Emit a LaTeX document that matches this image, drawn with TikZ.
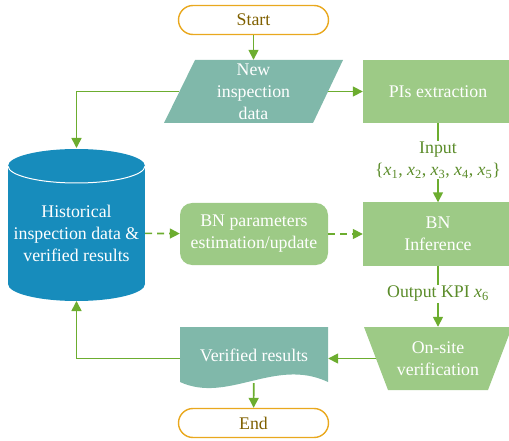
\documentclass[tikz,border=0pt]{standalone}
\usepackage{fontspec}
\setmainfont{Liberation Serif}
\usetikzlibrary{arrows.meta}

\definecolor{termline}{HTML}{E9A81E}
\definecolor{termtext}{HTML}{7F6000}
\definecolor{tealfill}{HTML}{80B8AA}
\definecolor{greenfill}{HTML}{9DCA86}
\definecolor{dbblue}{HTML}{178CBC}
\definecolor{flowgreen}{HTML}{6CAD2F}
\definecolor{labelgreen}{HTML}{5B8C2A}

\newcommand{\xvar}[1]{\textit{x}\textsubscript{#1}}

\begin{document}
\begin{tikzpicture}
	[x=1pt, y=-1pt,
	 every node/.style={inner sep=2pt,align=center,font=\fontsize{17.8}{22}\selectfont},
	 term/.style={draw=termline,text=termtext,line width=1.4pt,rounded corners=14.5pt,minimum width=150pt,minimum height=29pt},
	 procbox/.style={fill=greenfill,text=white,minimum width=150pt,minimum height=63pt},
	 roundbox/.style={fill=greenfill,text=white,rounded corners=12pt,minimum width=148pt,minimum height=62pt},
	 shapetext/.style={text=white,minimum width=148pt,minimum height=63pt},
	 note/.style={text=labelgreen,inner sep=1pt},
	 flow/.style={draw=flowgreen,line width=1.6pt,-{Triangle[length=10pt,width=10pt]}},
	 plain/.style={draw=flowgreen,line width=1.6pt},
	 scale=1 ]

\useasboundingbox (0,0) rectangle (509,441);

\node [term] (start) at (253.5,20) {Start};

\fill[tealfill] (195,60) -- (343,60) -- (313,123) -- (164,123) -- cycle;
\node [shapetext] (newdata) at (253.5,91.5) {New\\inspection\\data};
\node [procbox] (pis) at (438,91.5) {PIs extraction};
\node [note] (input) at (438,160) {Input\\\{\xvar{1}, \xvar{2}, \xvar{3}, \xvar{4}, \xvar{5}\}};

\fill[dbblue] (8,166) rectangle (145,284);
\fill[dbblue] (76.5,166) ellipse [x radius=68.5, y radius=17];
\fill[dbblue] (76.5,284) ellipse [x radius=68.5, y radius=17];
\draw[white,line width=1pt] (8,166) arc [start angle=180, end angle=0, x radius=68.5, y radius=17];
\node [shapetext,minimum width=137pt] (hist) at (76.5,233) {Historical\\inspection data \&\\verified results};
\coordinate (histtop) at (76.5,148);
\coordinate (histbot) at (76.5,301);

\node [roundbox] (bnparam) at (254,234) {BN parameters\\estimation/update};
\node [procbox] (bninf) at (438,234) {BN\\Inference};
\node [note] (output) at (438,294) {Output KPI \xvar{6}};

\fill[greenfill] (364,327) -- (512,327) -- (488,390) -- (388,390) -- cycle;
\node [shapetext,minimum width=124pt] (onsite) at (438,358.5) {On-site\\verification};

\fill[tealfill] (180,327) -- (328,327) -- (328,382) .. controls (275,357) and (228,404) .. (180,382) -- cycle;
\node [shapetext,minimum height=56pt] (verified) at (254,355) {Verified results};

\node [term] (end) at (253.5,423) {End};

\draw[flow] (start) -- (newdata);
\draw[flow] (newdata) -- (pis);
\draw[flow] (newdata) -| (histtop);
\draw[plain] (pis) -- (input);
\draw[flow] (input) -- (bninf);
\draw[flow,dash pattern=on 7pt off 5pt] (hist) -- (bnparam);
\draw[flow,dash pattern=on 7pt off 5pt] (bnparam) -- (bninf);
\draw[plain] (bninf) -- (output);
\draw[flow] (output) -- (onsite);
\draw[flow] (onsite.west) -- (onsite.west -| verified.east);
\draw[flow] (verified.west |- onsite.west) -| (histbot);
\draw[flow] (verified) -- (end);

\end{tikzpicture}
\end{document}
